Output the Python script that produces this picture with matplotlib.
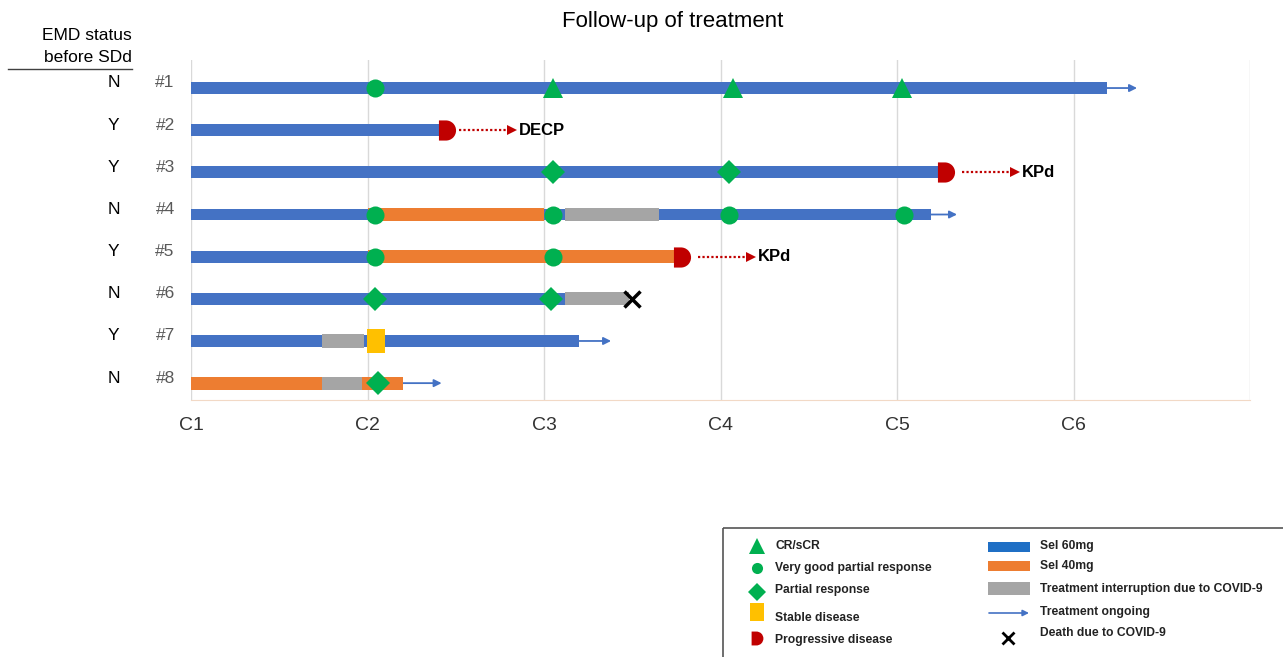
import matplotlib
matplotlib.use('Agg')
import matplotlib.pyplot as plt
from matplotlib.path import Path
from matplotlib.patches import Rectangle
import numpy as np

plt.rcParams['font.family'] = ['Liberation Sans', 'DejaVu Sans']

# 数据
patients = ['#1', '#2', '#3', '#4', '#5', '#6', '#7', '#8']
emd_status = ['N', 'Y', 'Y', 'N', 'Y', 'N', 'Y', 'N']
cycles = ['C1', 'C2', 'C3', 'C4', 'C5', 'C6']

# (行, 开始, 结束)
sel60 = [(0, 1, 6.19), (1, 1, 2.43), (2, 1, 5.27), (3, 1, 5.19),
         (4, 1, 2.0), (5, 1, 3.12), (6, 1, 3.2), (7, 1, 2.19)]
sel40 = [(3, 2.0, 3.0), (4, 2.0, 3.77), (7, 1.0, 1.74), (7, 1.97, 2.2)]
interrupt = [(3, 3.12, 3.65), (5, 3.12, 3.48), (6, 1.74, 1.98), (7, 1.74, 1.97)]
ongoing = [(0, 6.19, 6.36), (3, 5.19, 5.34), (6, 3.2, 3.38), (7, 2.2, 2.42)]

cr = [(0, 3.05), (0, 4.07), (0, 5.03)]
vgpr = [(0, 2.04), (3, 2.04), (3, 3.05), (3, 4.05), (3, 5.04), (4, 2.04), (4, 3.05)]
pr = [(2, 3.05), (2, 4.05), (5, 2.04), (5, 3.04), (7, 2.06)]
sd = [(6, 2.05)]
pd_ = [(1, 2.45), (2, 5.28), (4, 3.78)]
death = [(5, 3.5)]
next_tx = [(1, 2.52, 2.82, 'DECP'), (2, 5.37, 5.67, 'KPd'), (4, 3.87, 4.17, 'KPd')]

blue = '#4472C4'
orange = '#ED7D31'
grey = '#A5A5A5'
green = '#00B050'
yellow = '#FFC000'
red = '#C00000'

# 自定义标记
arc = Path.arc(-90, 90)
av = arc.vertices.copy()
av[:, 0] -= 0.15
pd_verts = np.vstack([[(-0.85, 1), (-0.85, -1)], av, [(-0.85, 1)]])
pd_codes = [Path.MOVETO, Path.LINETO] + [Path.LINETO] + list(arc.codes[1:]) + [Path.CLOSEPOLY]
pd_marker = Path(pd_verts, pd_codes)
sd_marker = Path([(-0.39, -0.5), (0.39, -0.5), (0.39, 0.5), (-0.39, 0.5), (-0.39, -0.5)],
                 [Path.MOVETO, Path.LINETO, Path.LINETO, Path.LINETO, Path.CLOSEPOLY])

fig = plt.figure(figsize=(12.83, 6.57), dpi=100)
ax = fig.add_axes([191 / 1283, 1 - 400 / 657, 1059 / 1283, 340 / 657])

for x in range(1, 8):
    ax.axvline(x, color='#d9d9d9', lw=1, zorder=0)

for r, s, e in sel60:
    ax.barh(r, e - s, left=s, height=0.28, color=blue, zorder=2)
for r, s, e in sel40:
    ax.barh(r, e - s, left=s, height=0.31, color=orange, zorder=3)
for r, s, e in interrupt:
    ax.barh(r, e - s, left=s, height=0.31, color=grey, zorder=3)
for r, s, e in ongoing:
    ax.annotate('', xy=(e, r), xytext=(s, r),
                arrowprops=dict(arrowstyle='-|>', color=blue, lw=1.3,
                                shrinkA=0, shrinkB=0, mutation_scale=11), zorder=2)

for r, s, e, lab in next_tx:
    ax.plot([s, e - 0.03], [r, r], color=red, lw=1.6, ls=(0, (1, 1)), zorder=2)
    ax.plot(e, r, marker='>', color=red, ms=7, mew=0, zorder=2)
    ax.text(e + 0.04, r, lab, fontsize=12, fontweight='bold', va='center', ha='left')

ax.plot([p[1] for p in cr], [p[0] for p in cr], ls='none', marker='^', ms=15,
        color=green, mew=0, zorder=5)
ax.plot([p[1] for p in vgpr], [p[0] for p in vgpr], ls='none', marker='o', ms=13,
        color=green, mew=0, zorder=5)
ax.plot([p[1] for p in pr], [p[0] for p in pr], ls='none', marker='D', ms=12,
        color=green, mew=0, zorder=5)
ax.plot([p[1] for p in sd], [p[0] for p in sd], ls='none', marker=sd_marker, ms=17,
        color=yellow, mew=0, zorder=5)
ax.plot([p[1] for p in pd_], [p[0] for p in pd_], ls='none', marker=pd_marker, ms=14.5,
        color=red, mew=0, zorder=5)
ax.plot([p[1] for p in death], [p[0] for p in death], ls='none', marker='x', ms=11,
        color='black', mew=2.5, zorder=5)

ax.set_xlim(1, 7)
ax.set_ylim(7.40, -0.665)
ax.set_xticks(range(1, 7))
ax.set_xticklabels(cycles, fontsize=14, color='#333333')
ax.set_yticks(range(len(patients)))
ax.set_yticklabels([])
ax.tick_params(axis='x', length=0, pad=12)
ax.tick_params(axis='y', length=0)
for sp in ['top', 'right', 'left']:
    ax.spines[sp].set_visible(False)
ax.spines['bottom'].set_color('#f2d9c6')
ax.patch.set_alpha(0)

# 病人编号和EMD状态(标签比条形略高)
for i, (s, p) in enumerate(zip(emd_status, patients)):
    ax.text(-0.073, i - 0.12, s, transform=ax.get_yaxis_transform(), fontsize=12.5,
            ha='center', va='center')
    ax.text(-0.0245, i - 0.12, p, transform=ax.get_yaxis_transform(), fontsize=12.5,
            ha='center', va='center', color='#595959')

# 标题和左侧表头
fig.text(673 / 1283, 1 - 21 / 657, 'Follow-up of treatment', fontsize=16,
         ha='center', va='center')
fig.text(132 / 1283, 1 - 36 / 657, 'EMD status', fontsize=12.5, ha='right', va='center')
fig.text(132 / 1283, 1 - 58 / 657, 'before SDd', fontsize=12.5, ha='right', va='center')

# 图例(像素坐标)
lg = fig.add_axes([0, 0, 1, 1])
lg.set_xlim(0, 1283)
lg.set_ylim(657, 0)
lg.axis('off')
lg.patch.set_alpha(0)
lg.plot([8, 132], [69, 69], color='#404040', lw=1)
lg.add_patch(Rectangle((723, 528), 600, 200, fill=False, ec='#555555', lw=1.2))

left_items = [('^', 11, green, 546, 546, 'CR/sCR'),
              ('o', 8, green, 568, 568, 'Very good partial response'),
              ('D', 9, green, 592, 590, 'Partial response'),
              (sd_marker, 13, yellow, 612, 618, 'Stable disease'),
              (pd_marker, 10, red, 638, 640, 'Progressive disease')]
for m, ms, c, my, ty, lab in left_items:
    lg.plot(757, my, marker=m, ms=ms, color=c, mew=0)
    lg.text(775, ty, lab, fontsize=8.7, fontweight='bold', va='center', color='#222222')

lg.add_patch(Rectangle((988, 542), 42, 10, color='#1F6FC5', lw=0))
lg.add_patch(Rectangle((988, 561), 42, 10, color=orange, lw=0))
lg.add_patch(Rectangle((988, 582), 42, 13, color=grey, lw=0))
lg.annotate('', xy=(1029, 613), xytext=(989, 613),
            arrowprops=dict(arrowstyle='-|>', color=blue, lw=1.2,
                            shrinkA=0, shrinkB=0, mutation_scale=9))
lg.plot(1008, 638, marker='x', ms=8, color='black', mew=2)
right_items = [(546, 'Sel 60mg'), (566, 'Sel 40mg'),
               (589, 'Treatment interruption due to COVID-9'),
               (612, 'Treatment ongoing'), (633, 'Death due to COVID-9')]
for ty, lab in right_items:
    lg.text(1040, ty, lab, fontsize=8.7, fontweight='bold', va='center', color='#222222')

fig.savefig('out.png', dpi=100)
